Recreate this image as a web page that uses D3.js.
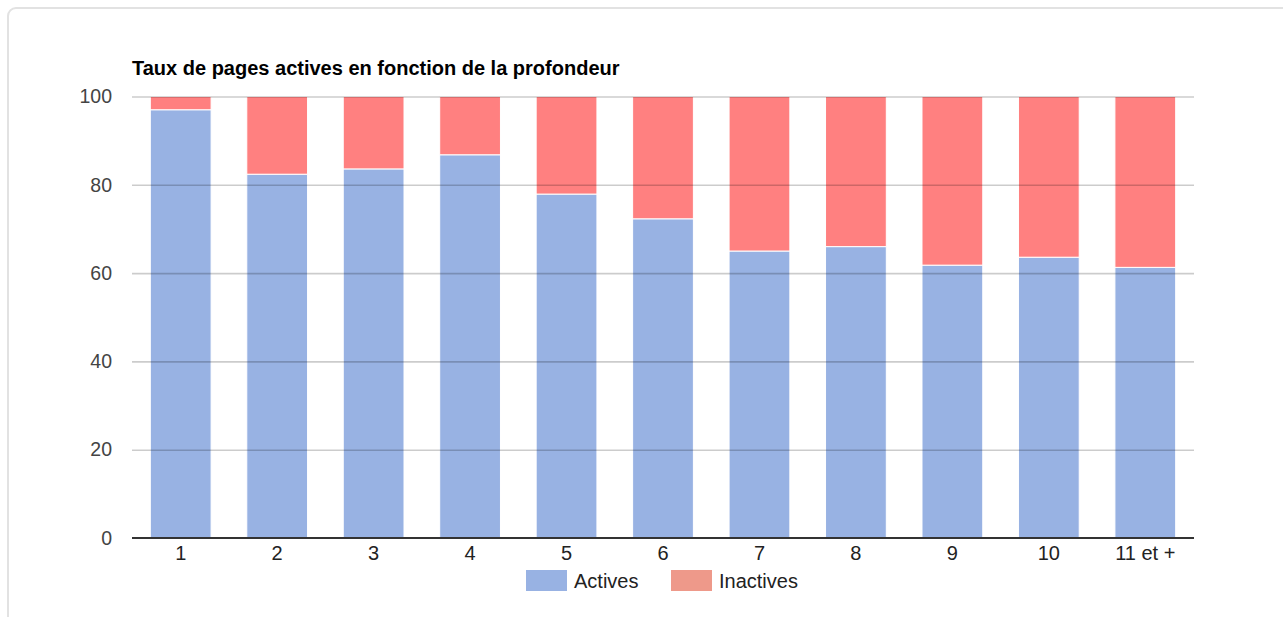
<!DOCTYPE html>
<html>
<head>
<meta charset="utf-8">
<script src="https://cdn.jsdelivr.net/npm/d3@7"></script>
<style>
  html, body { margin: 0; padding: 0; background: #fff; }
  svg { display: block; font-family: "Liberation Sans", Arial, sans-serif; }
</style>
</head>
<body>
<svg id="chart" width="1283" height="617"></svg>
<script>
// Depth levels and the share of active pages at each level (percent)
const categories = ["1", "2", "3", "4", "5", "6", "7", "8", "9", "10", "11 et +"];
const actives = [97, 82.4, 83.6, 86.8, 77.9, 72.3, 65, 66, 61.8, 63.6, 61.3];
const inactives = actives.map(v => 100 - v);
const seriesNames = ["Actives", "Inactives"];
const yTicks = [0, 20, 40, 60, 80, 100];

const colors = { Actives: "#98b2e3", Inactives: "#ff8080" };
const legendColors = { Actives: "#98b2e3", Inactives: "#ee998a" };

const svg = d3.select("#chart");

// card frame
svg.append("rect")
  .attr("x", 8).attr("y", 8)
  .attr("width", 1320).attr("height", 700)
  .attr("rx", 8)
  .attr("fill", "#fff")
  .attr("stroke", "#e2e2e2")
  .attr("stroke-width", 2);

const plot = { left: 132, right: 1194, top: 96.5, bottom: 538 };

const x = d3.scaleBand()
  .domain(categories)
  .range([plot.left, plot.right])
  .paddingInner(0.37)
  .paddingOuter(0.19);

const y = d3.scaleLinear().domain([0, 100]).range([plot.bottom, plot.top]);

// title
svg.append("text")
  .attr("x", 132).attr("y", 75)
  .attr("font-size", 20).attr("font-weight", "bold")
  .attr("fill", "#000")
  .text("Taux de pages actives en fonction de la profondeur");

// stacked data
const rows = categories.map((c, i) => ({ cat: c, Actives: actives[i], Inactives: inactives[i] }));
const stack = d3.stack().keys(seriesNames)(rows);

svg.append("g").selectAll("g")
  .data(stack)
  .join("g")
  .attr("fill", d => colors[d.key])
  .selectAll("rect")
  .data(d => d)
  .join("rect")
  .attr("x", d => x(d.data.cat))
  .attr("width", x.bandwidth())
  .attr("y", d => y(d[1]))
  .attr("height", d => y(d[0]) - y(d[1]))
  .attr("stroke", "#fff")
  .attr("stroke-width", 1);

// gridlines drawn over the bars, translucent
const yAxis = d3.axisLeft(y)
  .tickValues(yTicks)
  .tickSize(-(plot.right - plot.left))
  .tickPadding(20)
  .tickFormat(d3.format("d"));

const gy = svg.append("g")
  .attr("transform", `translate(${plot.left},0)`)
  .call(yAxis);
gy.select(".domain").remove();
gy.selectAll(".tick line")
  .attr("stroke", "rgba(0,0,0,0.2)")
  .attr("stroke-width", 1.6)
  .attr("display", d => d === 0 ? "none" : null);
gy.selectAll(".tick text")
  .attr("font-size", 19.5)
  .attr("fill", "#444")
  .attr("font-family", "'Liberation Sans', Arial, sans-serif");

// baseline
svg.append("line")
  .attr("x1", plot.left).attr("x2", plot.right)
  .attr("y1", y(0)).attr("y2", y(0))
  .attr("stroke", "#333").attr("stroke-width", 2);

// x axis labels
const gx = svg.append("g")
  .attr("transform", `translate(0,${plot.bottom})`)
  .call(d3.axisBottom(x).tickSize(0).tickPadding(8));
gx.select(".domain").remove();
gx.selectAll(".tick text")
  .attr("font-size", 20)
  .attr("fill", "#222")
  .attr("font-family", "'Liberation Sans', Arial, sans-serif");

// legend
const legendX = { Actives: 526, Inactives: 671 };
const legend = svg.append("g").selectAll("g")
  .data(seriesNames)
  .join("g")
  .attr("transform", d => `translate(${legendX[d]},570)`);
legend.append("rect")
  .attr("width", 41).attr("height", 21)
  .attr("fill", d => legendColors[d]);
legend.append("text")
  .attr("x", 48).attr("y", 17.5)
  .attr("font-size", 20)
  .attr("fill", "#222")
  .text(d => d);
</script>
</body>
</html>
